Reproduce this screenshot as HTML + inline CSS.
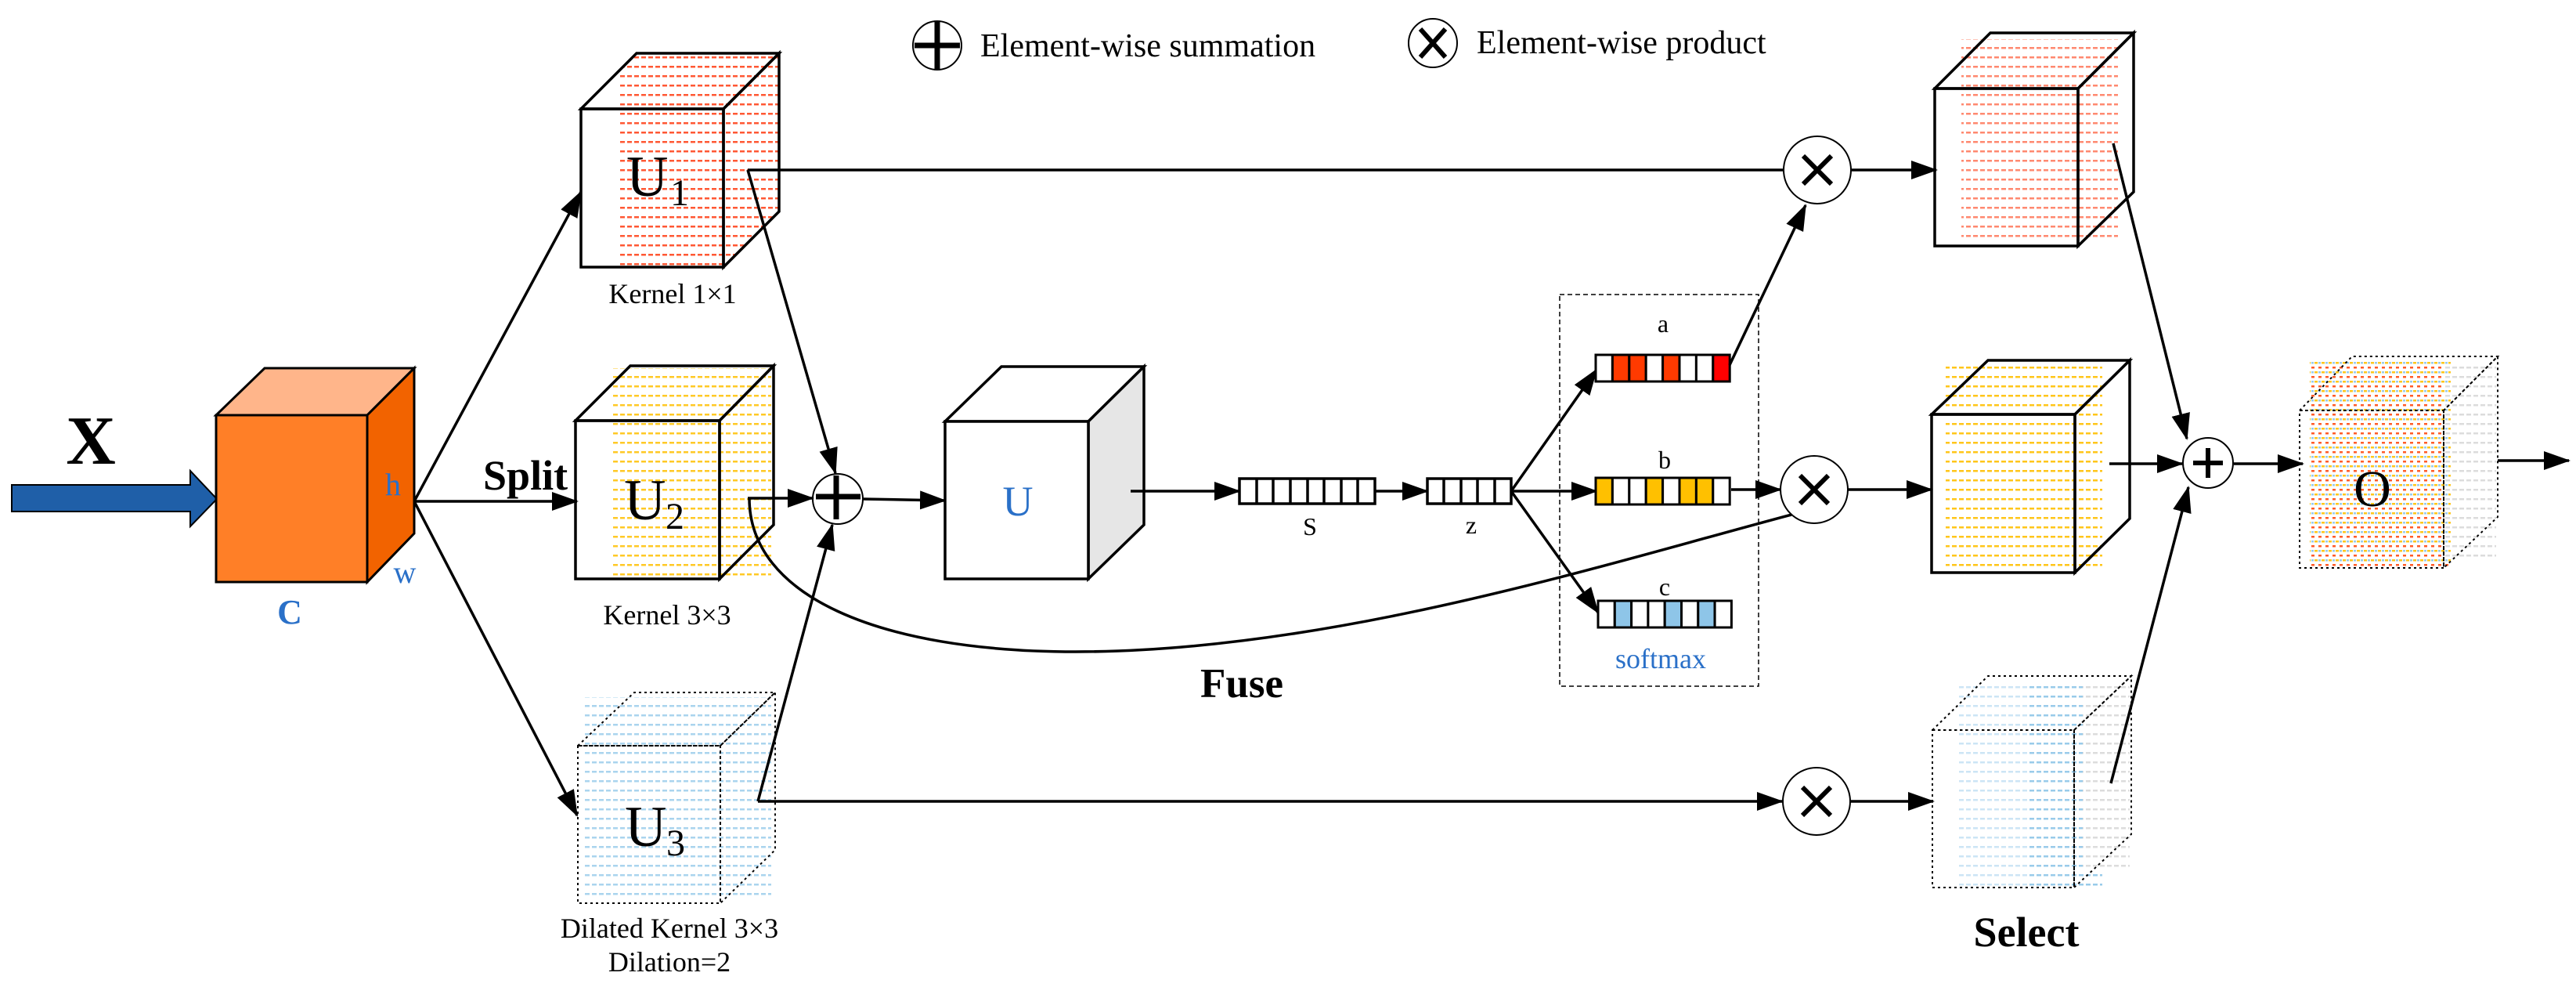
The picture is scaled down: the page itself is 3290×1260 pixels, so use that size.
<!DOCTYPE html>
<html><head><meta charset="utf-8"><style>
html,body{margin:0;padding:0;background:#fff;}
svg{display:block;font-family:"Liberation Serif",serif;}
svg text{font-family:"Liberation Serif",serif !important;}
</style></head><body>
<svg width="3290" height="1260" viewBox="0 0 3290 1260" xmlns="http://www.w3.org/2000/svg" font-family="Liberation Serif, serif">
<defs>
<marker id="ah" markerWidth="34" markerHeight="24" refX="32" refY="12" orient="auto" markerUnits="userSpaceOnUse">
<path d="M0,0 L34,12 L0,24 Z" fill="#000"/></marker>
<pattern id="pr" width="9" height="12" patternUnits="userSpaceOnUse"><rect x="0" y="0" width="6" height="2.5" fill="#ff3a10"/></pattern>
<pattern id="py" width="9" height="12" patternUnits="userSpaceOnUse"><rect x="0" y="0" width="6" height="2.5" fill="#ffc000"/></pattern>
<pattern id="pb" width="9" height="12" patternUnits="userSpaceOnUse"><rect x="0" y="0" width="6" height="2.5" fill="#8ec5e8"/></pattern>
<pattern id="pg" width="9" height="12" patternUnits="userSpaceOnUse"><rect x="0" y="0" width="6" height="2.5" fill="#dcdcdc"/></pattern>
<pattern id="po" width="9" height="12" patternUnits="userSpaceOnUse"><rect x="0" y="0" width="4" height="2.5" fill="#ff4a10"/><rect x="4" y="6" width="4" height="2.5" fill="#ffc000"/><rect x="0" y="6" width="3" height="2.5" fill="#8ec5e8"/></pattern>
<clipPath id="c1"><polygon points="742,139 813,68 995,68 995,270 924,341 742,341"/></clipPath>
</defs>

<!-- Legend -->
<circle cx="1197" cy="58" r="31" fill="none" stroke="#000" stroke-width="2"/>
<line x1="1168" y1="58" x2="1226" y2="58" stroke="#000" stroke-width="7"/>
<line x1="1197" y1="28" x2="1197" y2="88" stroke="#000" stroke-width="7"/>
<text x="1252" y="72" font-size="42">Element-wise summation</text>
<circle cx="1830" cy="55" r="31" fill="none" stroke="#000" stroke-width="2"/>
<line x1="1814" y1="37" x2="1846" y2="73" stroke="#000" stroke-width="6"/>
<line x1="1846" y1="37" x2="1814" y2="73" stroke="#000" stroke-width="6"/>
<text x="1886" y="68" font-size="42">Element-wise product</text>

<!-- Input arrow -->
<path d="M15,619 L243,619 L243,601 L277,637 L243,672 L243,653 L15,653 Z" fill="#1f5fa8" stroke="#000" stroke-width="2"/>
<text x="116" y="592" font-size="88" font-weight="bold" text-anchor="middle">X</text>

<!-- X cube -->
<polygon points="276,530 338,470 529,470 469,530" fill="#ffb58a" stroke="#000" stroke-width="3"/>
<polygon points="469,530 529,470 529,681 469,743" fill="#f26300" stroke="#000" stroke-width="3"/>
<rect x="276" y="530" width="193" height="213" fill="#ff7f27" stroke="#000" stroke-width="3"/>
<text x="502" y="632" font-size="40" fill="#2a70c8" text-anchor="middle">h</text>
<text x="517" y="744" font-size="40" fill="#2a70c8" text-anchor="middle">w</text>
<text x="370" y="796" font-size="44" fill="#2a70c8" text-anchor="middle" font-weight="bold">C</text>

<!-- split arrows -->
<line x1="529" y1="640" x2="742" y2="245" stroke="#000" stroke-width="3.5" marker-end="url(#ah)"/>
<line x1="529" y1="640" x2="737" y2="640" stroke="#000" stroke-width="3.5" marker-end="url(#ah)"/>
<line x1="529" y1="640" x2="737" y2="1041" stroke="#000" stroke-width="3.5" marker-end="url(#ah)"/>
<text x="617" y="625" font-size="54" font-weight="bold">Split</text>

<!-- U1 cube -->
<rect x="790" y="68" width="205" height="273" fill="url(#pr)" opacity="0.85" clip-path="url(#c1)"/>
<polygon points="742,139 813,68 995,68 924,139" fill="none" stroke="#000" stroke-width="3.5"/>
<polygon points="924,139 995,68 995,270 924,341" fill="none" stroke="#000" stroke-width="3.5"/>
<rect x="742" y="139" width="182" height="202" fill="none" stroke="#000" stroke-width="3.5"/>
<text x="800" y="250" font-size="74">U</text><text x="856" y="262" font-size="48">1</text>
<text x="859" y="387" font-size="36" text-anchor="middle">Kernel 1×1</text>

<!-- U2 cube -->
<rect x="780" y="470" width="205" height="265" fill="url(#py)" opacity="0.85"/>
<polygon points="735,537 805,467 988,467 919,537" fill="none" stroke="#000" stroke-width="3.5"/>
<polygon points="919,537 988,467 988,670 919,739" fill="none" stroke="#000" stroke-width="3.5"/>
<rect x="735" y="537" width="184" height="202" fill="none" stroke="#000" stroke-width="3.5"/>
<text x="797" y="663" font-size="74">U</text><text x="850" y="675" font-size="48">2</text>
<text x="852" y="797" font-size="36" text-anchor="middle">Kernel 3×3</text>

<!-- U3 cube -->
<rect x="745" y="890" width="240" height="260" fill="url(#pb)" opacity="0.75"/>
<polygon points="738,952 810,884 990,884 920,952" fill="none" stroke="#000" stroke-width="2" stroke-dasharray="3,4"/>
<polygon points="920,952 990,884 990,1085 920,1153" fill="none" stroke="#000" stroke-width="2" stroke-dasharray="3,4"/>
<rect x="738" y="952" width="182" height="201" fill="none" stroke="#000" stroke-width="2" stroke-dasharray="3,4"/>
<text x="798" y="1080" font-size="74">U</text><text x="851" y="1092" font-size="48">3</text>
<text x="855" y="1197" font-size="36" text-anchor="middle">Dilated Kernel 3×3</text>
<text x="855" y="1240" font-size="36" text-anchor="middle">Dilation=2</text>

<!-- sum circle -->
<circle cx="1070" cy="637" r="32" fill="#fff" stroke="#000" stroke-width="2"/>
<line x1="1042" y1="634" x2="1099" y2="634" stroke="#000" stroke-width="7"/>
<line x1="1068" y1="607" x2="1068" y2="663" stroke="#000" stroke-width="7"/>

<polyline points="955,217 2278,217" fill="none" stroke="#000" stroke-width="3.5"/>
<line x1="955" y1="217" x2="1067" y2="604" stroke="#000" stroke-width="3.5" marker-end="url(#ah)"/>
<line x1="955" y1="636" x2="1038" y2="636" stroke="#000" stroke-width="3.5" marker-end="url(#ah)"/>
<path d="M957,636 C957,760 1120,832 1374,832 C1700,832 2050,720 2288,657" fill="none" stroke="#000" stroke-width="3.5"/>
<line x1="968" y1="1023" x2="2276" y2="1023" stroke="#000" stroke-width="3.5" marker-end="url(#ah)"/>
<line x1="968" y1="1023" x2="1063" y2="670" stroke="#000" stroke-width="3.5" marker-end="url(#ah)"/>

<line x1="1102" y1="637" x2="1207" y2="639" stroke="#000" stroke-width="3.5" marker-end="url(#ah)"/>

<!-- U cube -->
<polygon points="1207,538 1279,468 1461,468 1390,538" fill="#fff" stroke="#000" stroke-width="3.5"/>
<polygon points="1390,538 1461,468 1461,670 1390,739" fill="#e6e6e6" stroke="#000" stroke-width="3.5"/>
<rect x="1207" y="538" width="183" height="201" fill="#fff" stroke="#000" stroke-width="3.5"/>
<text x="1300" y="658" font-size="54" fill="#2a70c8" text-anchor="middle">U</text>

<line x1="1444" y1="627" x2="1583" y2="627" stroke="#000" stroke-width="3.5" marker-end="url(#ah)"/>

<g stroke="#000" stroke-width="3.5" fill="#fff">
<rect x="1583" y="611" width="173" height="32"/>
<line x1="1605" y1="611" x2="1605" y2="643"/><line x1="1626" y1="611" x2="1626" y2="643"/><line x1="1648" y1="611" x2="1648" y2="643"/><line x1="1670" y1="611" x2="1670" y2="643"/><line x1="1691" y1="611" x2="1691" y2="643"/><line x1="1713" y1="611" x2="1713" y2="643"/><line x1="1734" y1="611" x2="1734" y2="643"/>
</g>
<text x="1673" y="683" font-size="32" text-anchor="middle">S</text>
<line x1="1756" y1="627" x2="1823" y2="627" stroke="#000" stroke-width="3.5" marker-end="url(#ah)"/>
<g stroke="#000" stroke-width="3.5" fill="#fff">
<rect x="1823" y="611" width="107" height="32"/>
<line x1="1844" y1="611" x2="1844" y2="643"/><line x1="1866" y1="611" x2="1866" y2="643"/><line x1="1887" y1="611" x2="1887" y2="643"/><line x1="1909" y1="611" x2="1909" y2="643"/>
</g>
<text x="1879" y="681" font-size="32" text-anchor="middle">z</text>

<rect x="1992" y="376" width="254" height="500" fill="none" stroke="#000" stroke-width="1.5" stroke-dasharray="6,4"/>

<line x1="1930" y1="627" x2="2039" y2="472" stroke="#000" stroke-width="3.5" marker-end="url(#ah)"/>
<line x1="1930" y1="627" x2="2039" y2="627" stroke="#000" stroke-width="3.5" marker-end="url(#ah)"/>
<line x1="1930" y1="627" x2="2041" y2="782" stroke="#000" stroke-width="3.5" marker-end="url(#ah)"/>

<g stroke="#000" stroke-width="3">
<rect x="2038" y="453" width="21.4" height="34" fill="#fff"/><rect x="2059.4" y="453" width="21.4" height="34" fill="#ff3a00"/><rect x="2080.8" y="453" width="21.4" height="34" fill="#ff3a00"/><rect x="2102.2" y="453" width="21.4" height="34" fill="#fff"/><rect x="2123.6" y="453" width="21.4" height="34" fill="#ff3a00"/><rect x="2145" y="453" width="21.4" height="34" fill="#fff"/><rect x="2166.4" y="453" width="21.4" height="34" fill="#fff"/><rect x="2187.8" y="453" width="21.4" height="34" fill="#ff0000"/>
</g>
<text x="2124" y="424" font-size="32" text-anchor="middle">a</text>
<g stroke="#000" stroke-width="3">
<rect x="2038" y="610" width="21.4" height="34" fill="#ffc000"/><rect x="2059.4" y="610" width="21.4" height="34" fill="#fff"/><rect x="2080.8" y="610" width="21.4" height="34" fill="#fff"/><rect x="2102.2" y="610" width="21.4" height="34" fill="#ffc000"/><rect x="2123.6" y="610" width="21.4" height="34" fill="#fff"/><rect x="2145" y="610" width="21.4" height="34" fill="#ffc000"/><rect x="2166.4" y="610" width="21.4" height="34" fill="#ffc000"/><rect x="2187.8" y="610" width="21.4" height="34" fill="#fff"/>
</g>
<text x="2126" y="598" font-size="32" text-anchor="middle">b</text>
<g stroke="#000" stroke-width="3">
<rect x="2041" y="767" width="21.3" height="34" fill="#fff"/><rect x="2062.3" y="767" width="21.3" height="34" fill="#8ec5e8"/><rect x="2083.6" y="767" width="21.3" height="34" fill="#fff"/><rect x="2104.9" y="767" width="21.3" height="34" fill="#fff"/><rect x="2126.2" y="767" width="21.3" height="34" fill="#8ec5e8"/><rect x="2147.5" y="767" width="21.3" height="34" fill="#fff"/><rect x="2168.8" y="767" width="21.3" height="34" fill="#8ec5e8"/><rect x="2190.1" y="767" width="21.3" height="34" fill="#fff"/>
</g>
<text x="2126" y="760" font-size="32" text-anchor="middle">c</text>
<text x="2121" y="853" font-size="36" fill="#2a70c8" text-anchor="middle">softmax</text>
<text x="1586" y="890" font-size="53" font-weight="bold" text-anchor="middle">Fuse</text>

<line x1="2209" y1="466" x2="2306" y2="262" stroke="#000" stroke-width="3.5" marker-end="url(#ah)"/>
<line x1="2211" y1="625" x2="2274" y2="625" stroke="#000" stroke-width="3.5" marker-end="url(#ah)"/>

<g stroke="#000">
<circle cx="2321" cy="217" r="43" fill="#fff" stroke-width="2"/>
<line x1="2303" y1="199" x2="2339" y2="235" stroke-width="6"/><line x1="2339" y1="199" x2="2303" y2="235" stroke-width="6"/>
<circle cx="2317" cy="625" r="43" fill="#fff" stroke-width="2"/>
<line x1="2299" y1="607" x2="2335" y2="643" stroke-width="6"/><line x1="2335" y1="607" x2="2299" y2="643" stroke-width="6"/>
<circle cx="2320" cy="1023" r="43" fill="#fff" stroke-width="2"/>
<line x1="2302" y1="1005" x2="2338" y2="1041" stroke-width="6"/><line x1="2338" y1="1005" x2="2302" y2="1041" stroke-width="6"/>
</g>
<line x1="2364" y1="217" x2="2473" y2="217" stroke="#000" stroke-width="3.5" marker-end="url(#ah)"/>
<line x1="2360" y1="625" x2="2467" y2="625" stroke="#000" stroke-width="3.5" marker-end="url(#ah)"/>
<line x1="2363" y1="1023" x2="2469" y2="1023" stroke="#000" stroke-width="3.5" marker-end="url(#ah)"/>

<rect x="2505" y="50" width="200" height="262" fill="url(#pr)" opacity="0.6"/>
<polygon points="2471,113 2542,42 2725,42 2654,113" fill="none" stroke="#000" stroke-width="3.5"/>
<polygon points="2654,113 2725,42 2725,245 2654,314" fill="none" stroke="#000" stroke-width="3.5"/>
<rect x="2471" y="113" width="183" height="201" fill="none" stroke="#000" stroke-width="3.5"/>
<rect x="2485" y="465" width="200" height="262" fill="url(#py)" opacity="0.9"/>
<polygon points="2467,529 2539,460 2720,460 2650,529" fill="none" stroke="#000" stroke-width="3.5"/>
<polygon points="2650,529 2720,460 2720,662 2650,731" fill="none" stroke="#000" stroke-width="3.5"/>
<rect x="2467" y="529" width="183" height="202" fill="none" stroke="#000" stroke-width="3.5"/>
<rect x="2500" y="870" width="90" height="262" fill="url(#pb)" opacity="0.45"/>
<rect x="2590" y="870" width="95" height="262" fill="url(#pb)" opacity="0.9"/>
<rect x="2660" y="870" width="60" height="240" fill="url(#pg)"/>
<polygon points="2468,932 2539,863 2722,863 2649,932" fill="none" stroke="#000" stroke-width="2" stroke-dasharray="3,4"/>
<polygon points="2649,932 2722,863 2722,1065 2649,1133" fill="none" stroke="#000" stroke-width="2" stroke-dasharray="3,4"/>
<rect x="2468" y="932" width="181" height="201" fill="none" stroke="#000" stroke-width="2" stroke-dasharray="3,4"/>
<text x="2588" y="1208" font-size="54" font-weight="bold" text-anchor="middle">Select</text>

<line x1="2699" y1="183" x2="2793" y2="560" stroke="#000" stroke-width="3.5" marker-end="url(#ah)"/>
<line x1="2694" y1="592" x2="2787" y2="592" stroke="#000" stroke-width="3.5" marker-end="url(#ah)"/>
<line x1="2696" y1="1000" x2="2795" y2="622" stroke="#000" stroke-width="3.5" marker-end="url(#ah)"/>
<circle cx="2820" cy="591" r="32" fill="#fff" stroke="#000" stroke-width="2"/>
<line x1="2801" y1="591" x2="2839" y2="591" stroke="#000" stroke-width="6"/>
<line x1="2820" y1="572" x2="2820" y2="610" stroke="#000" stroke-width="6"/>
<line x1="2853" y1="592" x2="2941" y2="592" stroke="#000" stroke-width="3.5" marker-end="url(#ah)"/>

<rect x="2950" y="460" width="180" height="265" fill="url(#po)" opacity="0.9"/>
<rect x="3122" y="460" width="66" height="260" fill="url(#pg)"/>
<polygon points="2937,524 3004,455 3190,455 3121,524" fill="none" stroke="#000" stroke-width="2" stroke-dasharray="3,4"/>
<polygon points="3121,524 3190,455 3190,660 3121,725" fill="none" stroke="#000" stroke-width="2" stroke-dasharray="3,4"/>
<rect x="2937" y="524" width="184" height="201" fill="none" stroke="#000" stroke-width="2" stroke-dasharray="3,4"/>
<text x="3030" y="646" font-size="66" text-anchor="middle">O</text>
<line x1="3190" y1="588" x2="3281" y2="588" stroke="#000" stroke-width="3.5" marker-end="url(#ah)"/>
</svg>
</body></html>
